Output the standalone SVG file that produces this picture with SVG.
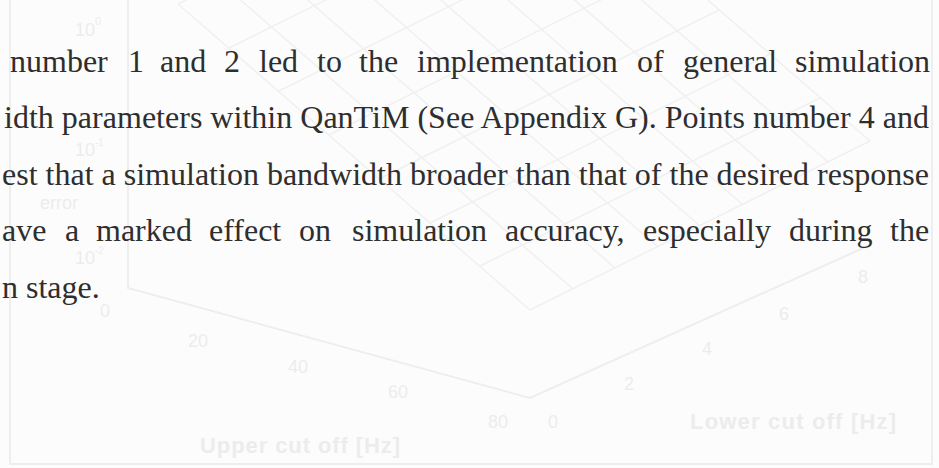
<svg xmlns="http://www.w3.org/2000/svg" width="939" height="468" viewBox="0 0 939 468">
<style>
.bg{fill:#fcfcfc}
.ghost{fill:none;stroke:#eeeeee;stroke-width:2}
.mesh{fill:none;stroke:#f0f0f0;stroke-width:1.5}
.gt{font-family:"Liberation Sans",Arial,sans-serif;fill:#ececec;font-size:18px}
.gb{font-family:"Liberation Sans",Arial,sans-serif;fill:#ececec;font-size:22px;font-weight:bold}
.body{font-family:"Liberation Serif","Times New Roman",serif;font-size:32px;fill:#2e2e2e}
</style>
<rect class="bg" x="0" y="0" width="939" height="468"/>
<g id="plot">
<path class="ghost" d="M10 0V464H932V0"/>
<path class="ghost" d="M128 0V288L530 398L870 245"/>
<path class="mesh" d="M178 4L518 -165M229 48L569 -121M279 91L619 -78M329 135L669 -34M379 179L719 10M430 223L770 54M480 266L820 98M530 310L870 141"/>
<path class="mesh" d="M178 4L530 310M221 -17L573 289M263 -39L615 268M306 -60L658 247M348 -81L700 226M391 -102L743 205M433 -123L785 183M476 -144L828 162M518 -165L870 141"/>
<text class="gt" x="75" y="36">10<tspan font-size="11" dy="-11">0</tspan></text>
<text class="gt" x="75" y="156" font-size="16">10<tspan font-size="10" dy="-10">-1</tspan></text>
<text class="gt" x="75" y="264" font-size="16">10<tspan font-size="10" dy="-10">-2</tspan></text>
<text class="gt" x="40" y="209" font-size="16">error</text>
<text class="gt" x="100" y="317">0</text>
<text class="gt" x="188" y="347">20</text>
<text class="gt" x="288" y="373">40</text>
<text class="gt" x="388" y="398">60</text>
<text class="gt" x="488" y="428">80</text>
<text class="gt" x="548" y="428">0</text>
<text class="gt" x="624" y="390">2</text>
<text class="gt" x="702" y="355">4</text>
<text class="gt" x="779" y="320">6</text>
<text class="gt" x="858" y="283">8</text>
<text class="gb" x="200" y="453" textLength="200">Upper cut off [Hz]</text>
<text class="gb" x="690" y="429" textLength="206">Lower cut off [Hz]</text>
</g>
<g id="text">
<text class="body" y="72"><tspan x="10">number</tspan><tspan x="128">1</tspan><tspan x="160">and</tspan><tspan x="224">2</tspan><tspan x="259">led</tspan><tspan x="317">to</tspan><tspan x="359">the</tspan><tspan x="417">implementation</tspan><tspan x="637">of</tspan><tspan x="683">general</tspan><tspan x="795">simulation</tspan></text>
<text class="body" x="4" y="128" textLength="925" lengthAdjust="spacing">idth parameters within QanTiM (See Appendix G). Points number 4 and</text>
<text class="body" x="2" y="185" textLength="927" lengthAdjust="spacing">est that a simulation bandwidth broader than that of the desired response</text>
<text class="body" y="241"><tspan x="2">ave</tspan><tspan x="65">a</tspan><tspan x="96">marked</tspan><tspan x="209">effect</tspan><tspan x="299">on</tspan><tspan x="352">simulation</tspan><tspan x="505">accuracy,</tspan><tspan x="643">especially</tspan><tspan x="789">during</tspan><tspan x="890">the</tspan></text>
<text class="body" x="2" y="298">n stage.</text>
</g>
</svg>
